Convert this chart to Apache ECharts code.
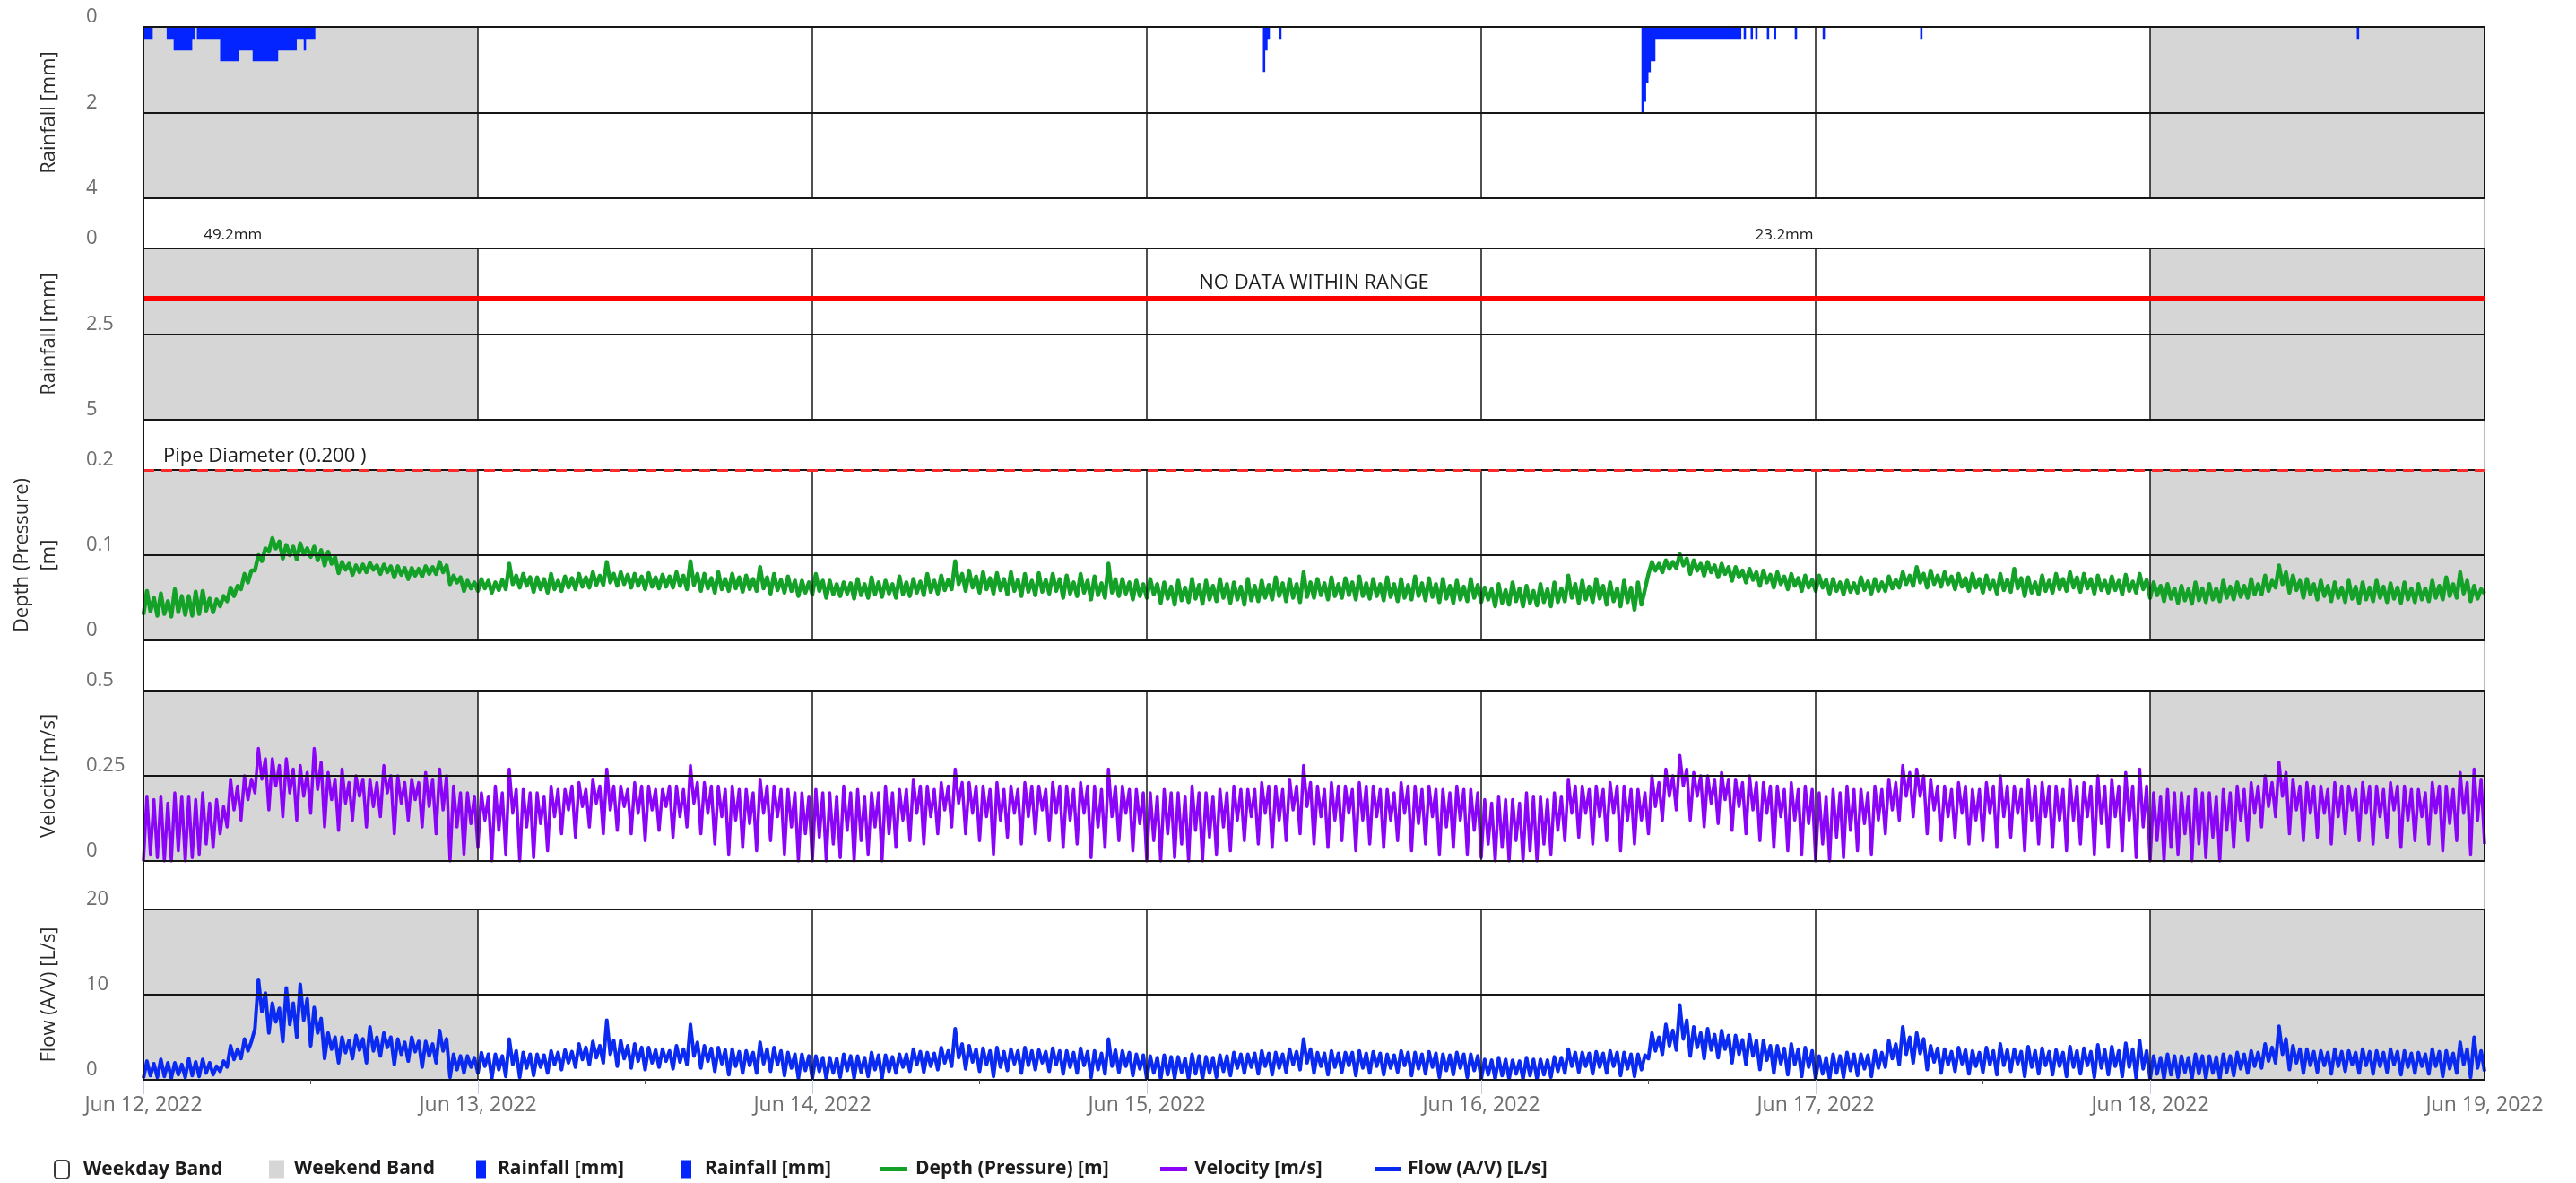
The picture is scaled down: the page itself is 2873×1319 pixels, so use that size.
<!DOCTYPE html>
<html><head><meta charset="utf-8">
<script src="https://cdn.jsdelivr.net/npm/echarts@6/dist/echarts.min.js"></script>
<style>html,body{margin:0;padding:0;background:#fff}#c{width:2873px;height:1319px}</style>
</head><body><div id="c"></div>
<script>
// ---------------- DATA ----------------
const dayLabels = ['Jun 12, 2022','Jun 13, 2022','Jun 14, 2022','Jun 15, 2022','Jun 16, 2022','Jun 17, 2022','Jun 18, 2022','Jun 19, 2022'];
const weekendDayIdx = [0, 6];
const rain1Ticks = [0, 2, 4];
const rain2Ticks = [0, 2.5, 5];
const depthTicks = [0, 0.1, 0.2];
const velTicks = [0, 0.25, 0.5];
const flowTicks = [0, 10, 20];
const pipeDiameter = 0.2;
const noDataLevel = 1.45;
const rainTotalLabels = ['49.2mm', '23.2mm'];
const rainTotalTimes = ['2022-06-12 06:25', '2022-06-16 21:45'];

// rainfall blocks, 10-minute values (mm)
const rainBlockStarts = ['2022-06-12 00:00','2022-06-15 08:20','2022-06-15 09:30','2022-06-16 11:30','2022-06-16 18:50','2022-06-16 19:20','2022-06-16 19:40','2022-06-16 20:30','2022-06-16 21:00','2022-06-16 22:30','2022-06-17 00:30','2022-06-17 07:30','2022-06-18 14:50'];
const rainBlocks = [
 [0.3,0.3,0.3,0.3, 0,0,0,0,0,0, 0.3,0.3,0.3, 0.55,0.55,0.55,0.55,0.55,0.55,0.55,0.55, 0.3,0,
  0.3,0.3,0.3,0.3,0.3,0.3,0.3,0.3,0.3,0.3, 0.8,0.8,0.8,0.8,0.8,0.8,0.8,0.8, 0.55,0.55,0.55,0.55,0.55,0.55,
  0.8,0.8,0.8,0.8,0.8,0.8,0.8,0.8,0.8,0.8,0.8, 0.55,0.55,0.55,0.55,0.55,0.55,0.55,0.55, 0.3,0.3,0.3, 0.55, 0.3,0.3,0.3,0.3],
 [1.05,0.55,0.3],
 [0.3],
 [2.0,1.75,1.3,1.06,0.8,0.8, 0.3,0.3,0.3,0.3,0.3,0.3,0.3,0.3,0.3,0.3,0.3,0.3,0.3,0.3,0.3,0.3,0.3,0.3,0.3,0.3,0.3,0.3,0.3,0.3,0.3,0.3,0.3,0.3,0.3,0.3,0.3,0.3,0.3,0.3,0.3,0.3,0.3],
 [0.3],[0.3],[0.3],[0.3],[0.3],[0.3],[0.3],[0.3],[0.3]
];

// 15-minute samples from Jun 12 00:00 to Jun 19 00:00 (one line per day, 4 values per hour)
const depth = [
 0.030,0.058,0.034,0.050, 0.029,0.055,0.031,0.046, 0.028,0.060,0.033,0.052, 0.030,0.052,0.029,0.057, 0.031,0.058,0.035,0.049, 0.033,0.048,0.040,0.052, 0.046,0.062,0.052,0.064, 0.060,0.078,0.068,0.082, 0.082,0.100,0.093,0.108, 0.104,0.120,0.108,0.116, 0.096,0.112,0.100,0.110, 0.095,0.114,0.101,0.108, 0.098,0.110,0.094,0.106, 0.088,0.104,0.090,0.098, 0.079,0.092,0.083,0.090, 0.077,0.088,0.080,0.089, 0.080,0.091,0.083,0.088, 0.078,0.089,0.080,0.087, 0.074,0.087,0.077,0.085, 0.072,0.085,0.076,0.084, 0.075,0.087,0.078,0.086, 0.078,0.092,0.080,0.088, 0.066,0.076,0.068,0.074, 0.058,0.070,0.061,0.068,
 0.058,0.072,0.061,0.070, 0.056,0.068,0.059,0.071, 0.060,0.090,0.066,0.076, 0.062,0.078,0.064,0.074, 0.057,0.074,0.060,0.072, 0.056,0.078,0.060,0.070, 0.058,0.075,0.062,0.073, 0.060,0.078,0.063,0.074, 0.062,0.080,0.065,0.076, 0.065,0.092,0.068,0.078, 0.064,0.080,0.066,0.077, 0.062,0.078,0.064,0.075, 0.060,0.079,0.063,0.074, 0.061,0.077,0.063,0.075, 0.062,0.080,0.064,0.076, 0.060,0.093,0.065,0.078, 0.058,0.078,0.061,0.073, 0.056,0.080,0.060,0.072, 0.058,0.078,0.061,0.074, 0.057,0.076,0.060,0.072, 0.058,0.086,0.061,0.074, 0.055,0.078,0.059,0.071, 0.056,0.075,0.058,0.070, 0.052,0.070,0.056,0.068,
 0.054,0.078,0.058,0.070, 0.050,0.070,0.054,0.066, 0.052,0.068,0.055,0.067, 0.049,0.072,0.053,0.066, 0.050,0.074,0.054,0.068, 0.051,0.070,0.055,0.066, 0.050,0.075,0.054,0.068, 0.052,0.072,0.056,0.069, 0.053,0.078,0.057,0.070, 0.055,0.076,0.059,0.071, 0.060,0.093,0.066,0.078, 0.058,0.082,0.062,0.075, 0.056,0.080,0.060,0.073, 0.055,0.079,0.059,0.072, 0.054,0.080,0.058,0.071, 0.052,0.078,0.057,0.070, 0.053,0.079,0.057,0.071, 0.055,0.078,0.058,0.072, 0.050,0.076,0.055,0.068, 0.052,0.078,0.056,0.070, 0.048,0.075,0.053,0.067, 0.050,0.090,0.056,0.072, 0.052,0.072,0.055,0.068, 0.048,0.070,0.052,0.066,
 0.050,0.072,0.054,0.066, 0.044,0.068,0.049,0.063, 0.042,0.070,0.047,0.062, 0.045,0.072,0.049,0.065, 0.043,0.070,0.048,0.064, 0.046,0.072,0.050,0.066, 0.044,0.068,0.048,0.063, 0.042,0.072,0.047,0.064, 0.046,0.070,0.050,0.065, 0.048,0.074,0.052,0.067, 0.046,0.072,0.050,0.066, 0.045,0.080,0.051,0.068, 0.050,0.072,0.053,0.067, 0.048,0.074,0.052,0.066, 0.050,0.073,0.053,0.068, 0.048,0.075,0.052,0.067, 0.049,0.072,0.052,0.066, 0.047,0.074,0.051,0.066, 0.046,0.072,0.050,0.065, 0.048,0.075,0.052,0.067, 0.047,0.073,0.051,0.066, 0.045,0.072,0.049,0.064, 0.044,0.070,0.048,0.063, 0.046,0.072,0.050,0.065,
 0.045,0.062,0.048,0.060, 0.040,0.066,0.044,0.059, 0.042,0.068,0.046,0.061, 0.040,0.064,0.044,0.058, 0.041,0.066,0.045,0.060, 0.040,0.068,0.045,0.061, 0.046,0.076,0.050,0.066, 0.044,0.070,0.048,0.063, 0.045,0.072,0.049,0.064, 0.042,0.068,0.046,0.061, 0.040,0.070,0.045,0.062, 0.036,0.068,0.042,0.060, 0.078,0.092,0.082,0.090, 0.080,0.094,0.084,0.092, 0.085,0.101,0.088,0.096, 0.078,0.094,0.082,0.090, 0.076,0.092,0.080,0.088, 0.074,0.090,0.078,0.086, 0.070,0.086,0.074,0.082, 0.068,0.084,0.071,0.080, 0.064,0.082,0.068,0.077, 0.062,0.080,0.066,0.075, 0.060,0.078,0.064,0.073, 0.058,0.076,0.062,0.071,
 0.058,0.076,0.062,0.071, 0.055,0.072,0.058,0.068, 0.054,0.070,0.057,0.067, 0.056,0.074,0.059,0.069, 0.055,0.072,0.058,0.068, 0.058,0.075,0.061,0.071, 0.062,0.080,0.066,0.076, 0.064,0.086,0.068,0.078, 0.062,0.082,0.066,0.076, 0.063,0.080,0.066,0.075, 0.060,0.078,0.063,0.073, 0.058,0.078,0.062,0.072, 0.056,0.076,0.060,0.070, 0.055,0.078,0.059,0.071, 0.057,0.084,0.061,0.073, 0.052,0.074,0.056,0.068, 0.054,0.076,0.058,0.070, 0.056,0.078,0.060,0.072, 0.058,0.080,0.062,0.074, 0.057,0.078,0.061,0.072, 0.055,0.076,0.059,0.070, 0.056,0.075,0.059,0.070, 0.054,0.077,0.058,0.069, 0.056,0.078,0.060,0.071,
 0.050,0.068,0.053,0.064, 0.046,0.066,0.049,0.061, 0.044,0.064,0.047,0.060, 0.043,0.068,0.047,0.061, 0.045,0.066,0.048,0.061, 0.046,0.070,0.050,0.063, 0.048,0.068,0.051,0.064, 0.050,0.072,0.054,0.066, 0.054,0.076,0.058,0.070, 0.062,0.088,0.066,0.080, 0.056,0.076,0.059,0.070, 0.050,0.072,0.054,0.066, 0.048,0.070,0.052,0.064, 0.046,0.068,0.050,0.062, 0.045,0.070,0.049,0.063, 0.044,0.068,0.048,0.062, 0.046,0.070,0.050,0.063, 0.045,0.067,0.049,0.062, 0.044,0.068,0.048,0.061, 0.045,0.066,0.048,0.061, 0.046,0.070,0.050,0.064, 0.048,0.074,0.052,0.066, 0.050,0.080,0.055,0.070, 0.046,0.064,0.049,0.060,
 0.055
];
const velocity = [
 0.00,0.19,0.02,0.18, 0.01,0.19,0.00,0.17, 0.00,0.20,0.03,0.19, 0.00,0.19,0.01,0.18, 0.02,0.20,0.05,0.17, 0.04,0.18,0.08,0.16, 0.10,0.24,0.15,0.22, 0.12,0.25,0.18,0.24, 0.20,0.33,0.24,0.30, 0.15,0.30,0.22,0.28, 0.13,0.30,0.20,0.27, 0.12,0.28,0.19,0.26, 0.14,0.33,0.21,0.29, 0.10,0.26,0.18,0.24, 0.09,0.27,0.17,0.23, 0.12,0.25,0.19,0.24, 0.10,0.24,0.16,0.23, 0.13,0.28,0.20,0.25, 0.08,0.25,0.17,0.23, 0.12,0.24,0.18,0.23, 0.10,0.26,0.16,0.24, 0.08,0.27,0.15,0.25, 0.00,0.22,0.10,0.20, 0.02,0.20,0.11,0.19,
 0.04,0.20,0.12,0.19, 0.00,0.22,0.09,0.20, 0.02,0.27,0.14,0.21, 0.00,0.21,0.10,0.20, 0.01,0.20,0.11,0.19, 0.03,0.22,0.13,0.21, 0.08,0.21,0.15,0.22, 0.07,0.23,0.16,0.21, 0.10,0.24,0.17,0.22, 0.08,0.27,0.15,0.22, 0.09,0.22,0.16,0.21, 0.08,0.23,0.14,0.22, 0.06,0.22,0.15,0.21, 0.09,0.21,0.16,0.22, 0.07,0.22,0.13,0.21, 0.10,0.28,0.17,0.23, 0.08,0.23,0.14,0.22, 0.05,0.22,0.13,0.21, 0.02,0.22,0.12,0.21, 0.04,0.21,0.11,0.20, 0.03,0.24,0.14,0.22, 0.06,0.22,0.13,0.21, 0.02,0.21,0.10,0.20, 0.00,0.20,0.08,0.19,
 0.00,0.21,0.07,0.20, 0.00,0.20,0.05,0.19, 0.01,0.22,0.09,0.20, 0.00,0.21,0.06,0.19, 0.02,0.20,0.10,0.20, 0.00,0.22,0.08,0.20, 0.04,0.21,0.12,0.21, 0.06,0.24,0.14,0.22, 0.05,0.22,0.13,0.21, 0.08,0.23,0.15,0.22, 0.10,0.27,0.17,0.23, 0.08,0.23,0.14,0.22, 0.06,0.22,0.13,0.21, 0.02,0.23,0.12,0.21, 0.07,0.22,0.14,0.21, 0.05,0.23,0.13,0.22, 0.08,0.22,0.15,0.21, 0.06,0.23,0.14,0.22, 0.04,0.22,0.12,0.21, 0.05,0.23,0.14,0.22, 0.01,0.22,0.10,0.21, 0.04,0.27,0.13,0.22, 0.06,0.22,0.14,0.21, 0.03,0.21,0.11,0.20,
 0.00,0.20,0.06,0.19, 0.00,0.21,0.08,0.20, 0.01,0.20,0.05,0.19, 0.00,0.22,0.09,0.20, 0.00,0.20,0.07,0.19, 0.02,0.21,0.10,0.20, 0.03,0.22,0.12,0.21, 0.06,0.21,0.13,0.21, 0.05,0.23,0.14,0.22, 0.04,0.22,0.12,0.21, 0.06,0.24,0.15,0.22, 0.08,0.28,0.16,0.23, 0.05,0.22,0.13,0.21, 0.04,0.23,0.12,0.22, 0.06,0.22,0.14,0.21, 0.03,0.23,0.12,0.22, 0.05,0.22,0.13,0.21, 0.04,0.21,0.12,0.20, 0.06,0.23,0.14,0.22, 0.03,0.22,0.11,0.21, 0.05,0.22,0.13,0.21, 0.02,0.21,0.10,0.20, 0.04,0.22,0.12,0.21, 0.02,0.21,0.09,0.20,
 0.01,0.18,0.05,0.17, 0.00,0.19,0.04,0.18, 0.00,0.18,0.06,0.17, 0.00,0.20,0.03,0.19, 0.00,0.19,0.05,0.18, 0.02,0.20,0.09,0.19, 0.06,0.24,0.14,0.22, 0.07,0.22,0.14,0.21, 0.05,0.22,0.13,0.21, 0.06,0.23,0.14,0.22, 0.03,0.22,0.12,0.21, 0.05,0.21,0.12,0.20, 0.08,0.25,0.16,0.23, 0.12,0.27,0.19,0.25, 0.15,0.31,0.22,0.27, 0.12,0.26,0.19,0.25, 0.10,0.25,0.17,0.24, 0.11,0.26,0.18,0.24, 0.09,0.24,0.16,0.23, 0.08,0.25,0.15,0.23, 0.06,0.23,0.14,0.22, 0.04,0.22,0.13,0.21, 0.03,0.23,0.12,0.21, 0.02,0.22,0.11,0.21,
 0.00,0.20,0.05,0.19, 0.00,0.21,0.07,0.20, 0.01,0.22,0.09,0.21, 0.03,0.21,0.11,0.20, 0.02,0.22,0.12,0.21, 0.08,0.24,0.15,0.23, 0.12,0.28,0.19,0.26, 0.13,0.27,0.19,0.25, 0.08,0.24,0.15,0.22, 0.06,0.22,0.13,0.21, 0.07,0.23,0.14,0.22, 0.05,0.21,0.12,0.21, 0.06,0.23,0.14,0.22, 0.04,0.25,0.13,0.22, 0.07,0.22,0.14,0.21, 0.03,0.24,0.12,0.22, 0.05,0.23,0.13,0.22, 0.04,0.22,0.12,0.21, 0.03,0.24,0.12,0.22, 0.05,0.23,0.13,0.22, 0.02,0.25,0.11,0.22, 0.04,0.24,0.13,0.22, 0.03,0.26,0.12,0.22, 0.01,0.27,0.10,0.22,
 0.00,0.20,0.06,0.19, 0.00,0.21,0.04,0.20, 0.02,0.20,0.08,0.19, 0.00,0.21,0.05,0.20, 0.01,0.20,0.07,0.19, 0.00,0.21,0.09,0.20, 0.04,0.22,0.12,0.21, 0.06,0.23,0.14,0.22, 0.10,0.25,0.16,0.23, 0.13,0.29,0.19,0.26, 0.08,0.24,0.15,0.22, 0.06,0.23,0.14,0.22, 0.07,0.22,0.14,0.21, 0.05,0.23,0.13,0.22, 0.08,0.22,0.15,0.21, 0.06,0.23,0.14,0.22, 0.05,0.22,0.13,0.21, 0.07,0.23,0.15,0.22, 0.04,0.22,0.12,0.21, 0.06,0.21,0.13,0.20, 0.05,0.23,0.14,0.22, 0.03,0.22,0.11,0.21, 0.06,0.26,0.14,0.23, 0.02,0.27,0.12,0.24,
 0.05
];
const flow = [
 0.2,2.2,0.5,1.9, 0.3,2.4,0.4,2.0, 0.2,2.0,0.6,1.8, 0.3,2.5,0.5,2.1, 0.4,2.4,0.8,2.0, 0.6,1.6,1.0,2.2, 1.5,4.0,2.4,3.6, 2.5,4.8,3.4,4.5, 6.0,11.8,8.0,10.2, 5.5,9.0,6.8,8.4, 4.5,10.8,6.5,9.0, 5.0,11.2,7.0,9.5, 4.0,8.5,5.5,7.2, 2.5,5.5,3.6,5.0, 2.0,5.0,3.2,4.6, 2.5,5.2,3.5,4.8, 2.0,6.2,3.4,5.0, 2.8,5.5,3.8,5.0, 1.8,4.8,3.0,4.4, 2.2,5.0,3.3,4.5, 1.5,4.5,2.8,4.2, 2.0,5.8,3.4,4.8, 0.3,3.0,1.2,2.8, 0.8,2.8,1.5,2.6,
 0.8,3.2,1.6,3.0, 0.2,3.0,1.2,2.8, 0.4,4.8,1.8,3.4, 0.3,3.2,1.4,3.0, 0.5,3.0,1.5,2.9, 0.8,3.4,1.8,3.2, 1.2,3.5,2.0,3.3, 1.5,4.2,2.4,3.8, 1.8,4.5,2.6,4.0, 2.0,7.0,3.0,4.6, 1.6,4.6,2.5,4.0, 1.4,4.2,2.2,3.8, 1.2,3.8,2.0,3.5, 1.5,3.6,2.2,3.4, 1.3,4.0,2.1,3.6, 1.8,6.5,2.8,4.4, 1.4,4.0,2.2,3.7, 1.0,3.8,1.9,3.5, 0.6,3.6,1.6,3.3, 0.8,3.4,1.7,3.2, 0.8,4.4,1.9,3.6, 1.0,3.8,1.8,3.4, 0.5,3.2,1.4,3.0, 0.2,3.0,1.1,2.8,
 0.2,2.8,1.0,2.6, 0.1,2.6,0.8,2.5, 0.3,3.0,1.1,2.8, 0.2,2.8,0.9,2.6, 0.4,3.2,1.2,2.9, 0.2,2.9,1.0,2.7, 0.8,3.0,1.5,3.0, 1.0,3.6,1.8,3.3, 0.9,3.2,1.6,3.1, 1.2,3.8,2.0,3.4, 1.6,6.0,2.6,4.2, 1.3,4.0,2.1,3.6, 1.0,3.7,1.8,3.4, 0.4,3.8,1.5,3.3, 1.1,3.6,1.9,3.4, 0.8,3.8,1.7,3.4, 1.2,3.5,2.0,3.3, 1.0,3.7,1.8,3.4, 0.7,3.4,1.5,3.2, 0.8,3.7,1.7,3.3, 0.3,3.4,1.2,3.1, 0.7,4.8,1.6,3.5, 0.9,3.4,1.6,3.2, 0.5,3.0,1.3,2.9,
 0.1,2.8,0.8,2.6, 0.1,2.9,0.6,2.7, 0.2,2.7,0.9,2.5, 0.1,3.0,0.7,2.8, 0.1,2.7,0.8,2.6, 0.3,2.9,1.0,2.8, 0.5,3.2,1.4,3.0, 0.8,3.0,1.5,3.1, 0.7,3.4,1.6,3.1, 0.6,3.2,1.4,3.0, 0.9,3.6,1.8,3.3, 1.2,4.8,2.0,3.6, 0.8,3.2,1.6,3.1, 0.6,3.4,1.5,3.1, 0.9,3.2,1.7,3.2, 0.5,3.4,1.4,3.1, 0.8,3.3,1.6,3.1, 0.6,3.0,1.4,2.9, 0.9,3.4,1.7,3.2, 0.5,3.2,1.3,3.0, 0.7,3.3,1.5,3.1, 0.3,3.0,1.1,2.9, 0.6,3.2,1.4,3.0, 0.3,3.0,1.1,2.8,
 0.1,2.4,0.6,2.3, 0.1,2.6,0.5,2.4, 0.1,2.3,0.7,2.2, 0.1,2.6,0.5,2.4, 0.1,2.4,0.6,2.3, 0.3,2.7,1.0,2.6, 0.8,3.6,1.6,3.2, 0.9,3.2,1.6,3.1, 0.7,3.3,1.5,3.1, 0.8,3.4,1.6,3.2, 0.5,3.2,1.3,3.0, 0.4,3.0,1.2,2.9, 2.5,5.5,3.4,5.0, 3.0,6.5,4.0,5.8, 3.5,8.8,4.8,7.0, 2.8,6.2,3.8,5.5, 2.5,6.0,3.5,5.3, 2.6,5.8,3.6,5.2, 2.0,5.2,3.0,4.7, 1.8,5.3,2.8,4.6, 1.2,4.6,2.3,4.0, 0.8,4.0,1.9,3.7, 0.6,4.2,1.8,3.6, 0.4,3.8,1.5,3.4,
 0.1,2.8,0.7,2.6, 0.1,3.0,0.8,2.8, 0.3,3.2,1.1,3.0, 0.5,3.0,1.3,2.9, 0.4,3.4,1.4,3.2, 1.5,4.6,2.5,4.2, 1.8,6.2,3.0,5.0, 2.0,5.5,3.1,4.8, 1.2,4.0,2.1,3.7, 0.8,3.6,1.8,3.3, 1.0,3.8,1.9,3.5, 0.7,3.4,1.6,3.2, 0.9,3.8,1.8,3.4, 0.6,4.2,1.7,3.5, 1.0,3.6,1.9,3.3, 0.4,3.9,1.5,3.4, 0.7,3.7,1.7,3.3, 0.6,3.5,1.6,3.2, 0.4,3.9,1.5,3.4, 0.7,3.7,1.7,3.3, 0.3,4.1,1.4,3.5, 0.6,3.9,1.6,3.4, 0.4,4.3,1.5,3.6, 0.2,4.6,1.3,3.4,
 0.1,2.8,0.7,2.6, 0.1,3.0,0.6,2.8, 0.3,2.8,0.9,2.6, 0.1,3.0,0.7,2.8, 0.2,2.8,0.8,2.7, 0.1,3.0,0.9,2.8, 0.5,3.2,1.3,3.0, 0.8,3.4,1.6,3.2, 1.4,4.2,2.2,3.8, 2.0,6.3,3.0,4.8, 1.2,4.0,2.0,3.6, 0.8,3.6,1.7,3.3, 0.9,3.4,1.7,3.2, 0.7,3.6,1.6,3.3, 1.0,3.4,1.8,3.2, 0.8,3.6,1.7,3.3, 0.7,3.4,1.6,3.2, 0.9,3.6,1.8,3.3, 0.6,3.4,1.5,3.1, 0.8,3.2,1.6,3.0, 0.7,3.6,1.6,3.3, 0.4,3.4,1.3,3.1, 0.8,4.4,1.8,3.6, 0.3,5.0,1.4,3.4,
 1.0
];

// ---------------- BUILD ----------------
const FONT = 'Open Sans';
const HOUR = 3600000, DAY = 24 * HOUR, STEP15 = HOUR / 4, STEP10 = HOUR / 6;
const t0 = new Date(2022, 5, 12).getTime();
const tEnd = t0 + 7 * DAY;
function parseT(s) {
  const [d, tm] = s.split(' ');
  const [Y, M, D] = d.split('-').map(Number);
  const [h, m] = tm.split(':').map(Number);
  return new Date(Y, M - 1, D, h, m).getTime();
}
const toSeries15 = arr => arr.map((v, i) => [t0 + i * STEP15, v]);

const rainData = [];
rainBlockStarts.forEach((s, k) => {
  const ts = parseT(s);
  rainBlocks[k].forEach((v, i) => rainData.push([ts + i * STEP10, v]));
  rainData.push([ts + rainBlocks[k].length * STEP10, 0]);
});
rainData.push([tEnd, 0]);

const C = {
  rain: '#0324ff', depth: '#14a128', vel: '#8a05f7', flow: '#0a2af2',
  band: '#d6d6d6', grid: '#161616', label: '#6e6e6e'
};

const panels = [
  { top: 30,   height: 191, ticks: rain1Ticks, inverse: true,  name: 'Rainfall [mm]' },
  { top: 277,  height: 191, ticks: rain2Ticks, inverse: true,  name: 'Rainfall [mm]' },
  { top: 524,  height: 190, ticks: depthTicks, inverse: false, name: 'Depth (Pressure)\n[m]' },
  { top: 770,  height: 190, ticks: velTicks,   inverse: false, name: 'Velocity [m/s]' },
  { top: 1014, height: 190, ticks: flowTicks,  inverse: false, name: 'Flow (A/V) [L/s]' }
];

const grid = panels.map(p => ({
  left: 160, right: 102, top: p.top, height: p.height,
  show: true, borderColor: C.grid, borderWidth: 2, backgroundColor: 'transparent', z: 4,
  outerBoundsMode: 'none', containLabel: false
}));

const xAxis = panels.map((p, i) => {
  const last = i === panels.length - 1;
  return {
    type: 'time', gridIndex: i, min: t0, max: tEnd,
    minInterval: DAY, maxInterval: DAY, splitNumber: 7, z: 4,
    axisLine: { show: false },
    axisTick: { show: last, length: 16, lineStyle: { color: '#c3cde0', width: 1 } },
    minorTick: { show: last, splitNumber: 2, length: 5, lineStyle: { color: '#555', width: 1 } },
    minorSplitLine: { show: false },
    splitLine: { show: true, lineStyle: { color: C.grid, width: 1.5 } },
    axisLabel: {
      show: last, margin: 17, color: C.label, fontSize: 23, fontFamily: FONT,
      hideOverlap: false, showMinLabel: true, showMaxLabel: true,
      alignMinLabel: 'center', alignMaxLabel: 'center',
      formatter: v => dayLabels[Math.round((v - t0) / DAY)] || ''
    }
  };
});

const yAxis = panels.map((p, i) => ({
  type: 'value', gridIndex: i, inverse: p.inverse,
  min: p.ticks[0], max: p.ticks[p.ticks.length - 1], interval: p.ticks[1] - p.ticks[0], z: 4,
  axisLine: { show: false }, axisTick: { show: false },
  splitLine: { show: true, lineStyle: { color: C.grid, width: 2 } },
  axisLabel: {
    margin: 64, align: 'left', verticalAlign: 'bottom', color: C.label, fontSize: 22, fontFamily: FONT,
    formatter: v => String(+(+v).toFixed(3))
  },
  name: p.name, nameLocation: 'middle', nameRotate: 90, nameGap: 90,
  nameTextStyle: { color: '#2a2a2a', fontSize: 22, fontFamily: FONT, lineHeight: 30 }
}));

const series = [];
panels.forEach((p, i) => {
  series.push({
    name: 'Weekend Band', type: 'line', xAxisIndex: i, yAxisIndex: i, data: [], z: 1, silent: true,
    itemStyle: { color: C.band },
    markArea: {
      silent: true, itemStyle: { color: C.band },
      data: weekendDayIdx.map(d => [{ xAxis: t0 + d * DAY }, { xAxis: t0 + (d + 1) * DAY }])
    }
  });
});
series.push({ name: 'Weekday Band', type: 'line', xAxisIndex: 0, yAxisIndex: 0, data: [], itemStyle: { color: '#fff' } });
series.push({
  name: 'Rainfall [mm]', type: 'line', step: 'end', xAxisIndex: 0, yAxisIndex: 0, z: 2,
  showSymbol: false, symbol: 'none', data: rainData,
  lineStyle: { width: 0, color: C.rain }, itemStyle: { color: C.rain },
  areaStyle: { color: C.rain, opacity: 1 }
});
series.push({
  name: 'Rainfall 2', type: 'line', xAxisIndex: 1, yAxisIndex: 1, data: [], z: 5,
  itemStyle: { color: C.rain },
  markLine: {
    silent: true, symbol: 'none',
    lineStyle: { color: '#ff0000', width: 6, type: 'solid' },
    label: { show: true, position: 'insideMiddleTop', formatter: 'NO DATA WITHIN RANGE', color: '#1e1e1e', fontSize: 22, fontFamily: FONT, distance: 6 },
    data: [{ yAxis: noDataLevel }]
  }
});
series.push({
  name: 'Depth (Pressure) [m]', type: 'line', xAxisIndex: 2, yAxisIndex: 2, z: 2,
  showSymbol: false, symbol: 'none', data: toSeries15(depth),
  lineStyle: { color: C.depth, width: 4.5, join: 'round' }, itemStyle: { color: C.depth }
});
series.push({
  name: 'Pipe', type: 'line', xAxisIndex: 2, yAxisIndex: 2, data: [], z: 5,
  markLine: {
    silent: true, symbol: 'none',
    lineStyle: { color: '#ff2a2a', width: 3, type: [12, 8] },
    label: { show: true, position: 'insideStartTop', formatter: 'Pipe Diameter (0.200 )', color: '#1e1e1e', fontSize: 22, fontFamily: FONT, distance: [22, 4] },
    data: [{ yAxis: pipeDiameter }]
  }
});
series.push({
  name: 'Velocity [m/s]', type: 'line', xAxisIndex: 3, yAxisIndex: 3, z: 2,
  showSymbol: false, symbol: 'none', data: toSeries15(velocity),
  lineStyle: { color: C.vel, width: 3.5, join: 'round' }, itemStyle: { color: C.vel }
});
series.push({
  name: 'Flow (A/V) [L/s]', type: 'line', xAxisIndex: 4, yAxisIndex: 4, z: 2,
  showSymbol: false, symbol: 'none', data: toSeries15(flow),
  lineStyle: { color: C.flow, width: 4, join: 'round' }, itemStyle: { color: C.flow }
});

const legendItems = [
  { name: 'Weekday Band', left: 60, icon: 'roundRect', w: 16, h: 20, style: { color: '#fff', borderColor: '#3a3a3a', borderWidth: 2 }, pad: 11 },
  { name: 'Weekend Band', left: 300, icon: 'rect', w: 17, h: 20, style: { color: C.band }, pad: 6 },
  { name: 'Rainfall [mm]', left: 531, icon: 'rect', w: 11, h: 20, style: { color: C.rain }, pad: 8 },
  { name: 'Rainfall 2', text: 'Rainfall [mm]', left: 760, icon: 'rect', w: 11, h: 20, style: { color: C.rain }, pad: 10 },
  { name: 'Depth (Pressure) [m]', left: 982, icon: 'rect', w: 30, h: 5, style: { color: C.depth }, pad: 4 },
  { name: 'Velocity [m/s]', left: 1294, icon: 'rect', w: 30, h: 5, style: { color: C.vel }, pad: 3 },
  { name: 'Flow (A/V) [L/s]', left: 1534, icon: 'rect', w: 28, h: 5, style: { color: C.flow }, pad: 3 }
];
const legend = legendItems.map(it => ({
  left: it.left, top: 1293, padding: 0, selectedMode: false,
  itemWidth: it.w, itemHeight: it.h,
  data: [{ name: it.name, icon: it.icon, itemStyle: it.style }],
  formatter: () => it.text || it.name,
  textStyle: { fontSize: 21, fontWeight: 'bold', color: '#1c1c1c', fontFamily: FONT, padding: [0, 0, 0, it.pad] }
}));

const chart = echarts.init(document.getElementById('c'), null, { renderer: 'canvas' });
chart.setOption({
  animation: false, backgroundColor: '#fff',
  grid, xAxis, yAxis, series, legend
});

const gText = rainTotalLabels.map((t, k) => {
  const x = chart.convertToPixel({ xAxisIndex: 0 }, parseT(rainTotalTimes[k]));
  return { type: 'text', x: x, y: 262, style: { text: t, fill: '#1e1e1e', font: '17px "' + FONT + '"', textAlign: 'center', textVerticalAlign: 'middle' }, z: 10 };
});
chart.setOption({
  graphic: gText.concat([
    { type: 'line', shape: { x1: 160, y1: 30, x2: 160, y2: 1205 }, style: { stroke: C.grid, lineWidth: 2 }, z: 10 },
    { type: 'line', shape: { x1: 2771, y1: 30, x2: 2771, y2: 1205 }, style: { stroke: '#777', lineWidth: 1 }, z: 3 }
  ])
});
</script>
</body></html>
